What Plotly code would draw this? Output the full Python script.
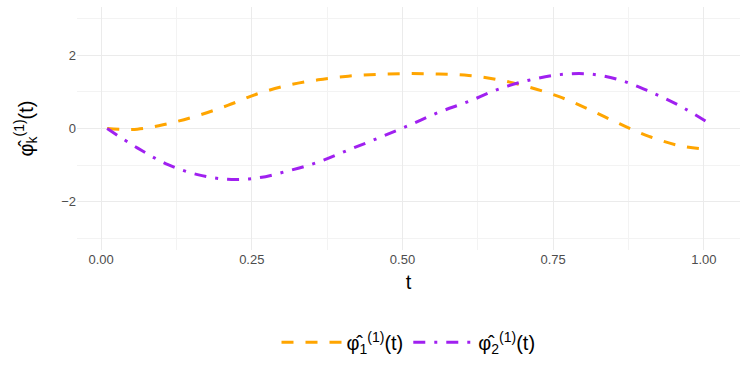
import plotly.graph_objects as go

# evaluation grid and the two estimated eigenfunctions
t = [0.01, 0.06, 0.11, 0.16, 0.21, 0.26, 0.31, 0.36, 0.41, 0.46, 0.51,
     0.56, 0.61, 0.66, 0.71, 0.76, 0.81, 0.86, 0.91, 0.96, 1.01]
phi_1 = [0.0, -0.02, 0.13, 0.35, 0.63, 0.95, 1.18, 1.33, 1.43, 1.48, 1.50,
         1.49, 1.45, 1.33, 1.13, 0.87, 0.52, 0.13, -0.22, -0.47, -0.58]
phi_2 = [0.0, -0.53, -0.98, -1.26, -1.39, -1.35, -1.16, -0.92, -0.59, -0.26, 0.08,
         0.44, 0.74, 1.08, 1.32, 1.47, 1.49, 1.33, 1.01, 0.62, 0.13]

x_ticks = [0, 0.25, 0.5, 0.75, 1.0]
x_tick_labels = ["0.00", "0.25", "0.50", "0.75", "1.00"]
y_ticks = [-2, 0, 2]
y_tick_labels = ["\u22122", "0", "2"]

FONT = "Liberation Sans, Arial, sans-serif"
HAT_PHI = "\u03c6\u0302"

fig = go.Figure()

fig.add_trace(go.Scatter(
    x=t, y=phi_1, mode="lines", line_shape="spline",
    name=f"{HAT_PHI}<sub>1</sub><sup>(1)</sup>(t)",
    line={"color": "#FFA500", "width": 3, "dash": "12px,12px"}))

fig.add_trace(go.Scatter(
    x=t, y=phi_2, mode="lines", line_shape="spline",
    name=f"{HAT_PHI}<sub>2</sub><sup>(1)</sup>(t)",
    line={"color": "#A020F0", "width": 3, "dash": "12px,9px,3px,9px"}))

# theme_minimal look: no panel border, light major and fainter minor grid
fig.update_xaxes(
    range=[-0.04, 1.06], tickvals=x_ticks, ticktext=x_tick_labels,
    showgrid=True, gridcolor="#EBEBEB", gridwidth=1.1, zeroline=False, showline=False,
    minor={"tick0": 0.125, "dtick": 0.25, "showgrid": True, "gridcolor": "#F3F3F3", "gridwidth": 0.6},
    ticks="", tickfont={"size": 13, "color": "#4D4D4D"}, automargin=False,
    title={"text": "t", "font": {"size": 20, "color": "black"}, "standoff": 8})

fig.update_yaxes(
    range=[-3.32, 3.32], tickvals=y_ticks, ticktext=y_tick_labels,
    showgrid=True, gridcolor="#EBEBEB", gridwidth=1.1, zeroline=False, showline=False,
    minor={"tick0": -3, "dtick": 2, "showgrid": True, "gridcolor": "#F3F3F3", "gridwidth": 0.6},
    ticks="", tickfont={"size": 13, "color": "#4D4D4D"}, automargin=False,
    title={"text": f"{HAT_PHI}<sub>k</sub><sup>(1)</sup>(t)", "font": {"size": 20, "color": "black"},
           "standoff": 22})

fig.update_layout(
    width=747, height=374,
    margin={"l": 77, "r": 7, "t": 7, "b": 124},
    paper_bgcolor="white", plot_bgcolor="white",
    font={"family": FONT},
    showlegend=True,
    legend={"orientation": "h", "x": 0.5, "xanchor": "center", "y": -0.38, "yanchor": "middle",
            "font": {"size": 20, "color": "black"}, "itemwidth": 60})

# drop the default page margin so the figure sits at the window's corner
fig.write_html("out.html", config={"displayModeBar": False},
               post_script="document.body.style.margin = '0';")
